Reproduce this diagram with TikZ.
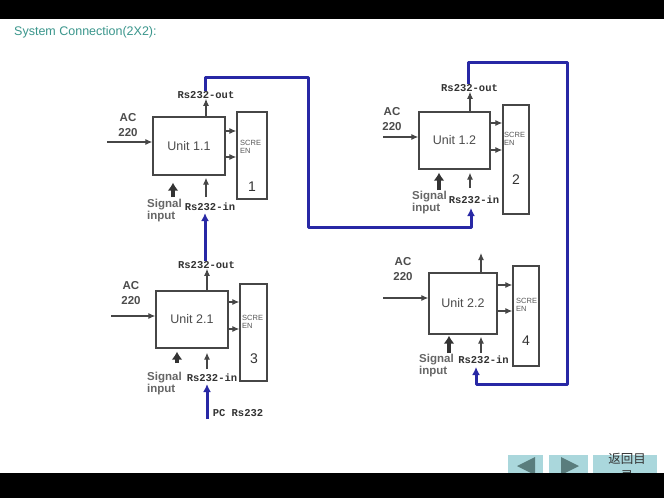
\documentclass[tikz,border=0pt]{standalone}
\usepackage{fontspec}
\setmainfont{Liberation Sans}
\setmonofont{Liberation Mono}
\newfontfamily\cjk{Noto Sans CJK SC}
\usetikzlibrary{arrows.meta,positioning,calc}
\definecolor{titlecol}{RGB}{58,150,140}
\definecolor{linkblue}{RGB}{40,40,165}
\definecolor{linegray}{RGB}{70,70,70}
\definecolor{btnfill}{RGB}{170,215,220}
\definecolor{btntri}{RGB}{90,125,125}

\tikzset{
  unit/.style={draw=linegray, line width=1.4pt, inner sep=0pt, font=\fontsize{12.5}{14}\selectfont, text=black!70},
  screen/.style={draw=linegray, line width=1.4pt, inner sep=0pt},
  feed/.style={draw=linegray, line width=1.1pt, -{Latex[length=7pt,width=6pt]}},
  sigfeed/.style={draw=black!80, line width=4pt, -{Latex[length=8pt,width=11pt]}},
  bus/.style={draw=linkblue, line width=3pt, line join=round},
  busin/.style={bus, -{Latex[length=8pt,width=8pt]}},
  port/.style={font=\ttfamily\bfseries\fontsize{10.5}{12}\selectfont, text=black!80, inner sep=0pt},
  acl/.style={font=\bfseries\fontsize{11.5}{15}\selectfont, text=black!70, align=center, inner sep=0pt},
  sigl/.style={font=\bfseries\fontsize{11.5}{12}\selectfont, text=black!60, align=left, inner sep=0pt, anchor=north west},
  scrl/.style={font=\fontsize{7.5}{8.5}\selectfont, text=black!65, align=left, inner sep=0pt, anchor=north west},
  numl/.style={font=\fontsize{14}{16}\selectfont, text=black!80},
  navbtn/.style={fill=btnfill, draw=none},
}

\begin{document}
\begin{tikzpicture}[x=1pt, y=-1pt]
    \useasboundingbox (0,0) rectangle (664,498);
    \fill[white] (0,0) rectangle (664,498);
    \node[anchor=west, text=titlecol, font=\fontsize{12.5}{14}\selectfont, inner sep=0pt] (title) at (14,32) {System Connection(2X2):};

    % Unit 1.1
    \node[unit, minimum width=72pt, minimum height=58pt] (u11) at (189,146) {Unit 1.1};
    \node[screen, minimum width=30pt, minimum height=87pt] (s1) at (252,155.5) {};
    \node[scrl] (t1) at (240,140) {SCRE\\EN};
    \node[numl] (n1) at (252,187) {1};
    \node[acl] (ac11) at (128,125.5) {AC\\220};
    \node[port] (o11) at (206,95) {Rs232-out};
    \node[sigl] (sg11) at (147,199) {Signal\\input};
    \node[port] (i11) at (210,207) {Rs232-in};
    \coordinate (acs11) at (107,142);
    \coordinate (sgs11) at (173,197);
    \coordinate (ins11) at (206,197);
    \draw[feed] (acs11) -- (acs11 -| u11.west);
    \draw[feed] (u11.east |- 0,131) -- (s1.west |- 0,131);
    \draw[feed] (u11.east |- 0,157) -- (s1.west |- 0,157);
    \draw[feed] (u11.north -| 206,0) -- (o11.south -| 206,0);
    \draw[sigfeed, shorten >=7pt] (sgs11) -- (sgs11 |- u11.south);
    \draw[feed, shorten >=2pt] (ins11) -- (ins11 |- u11.south);

    % Unit 1.2
    \node[unit, minimum width=71pt, minimum height=57pt] (u12) at (454.5,140.5) {Unit 1.2};
    \node[screen, minimum width=26pt, minimum height=109pt] (s2) at (516,159.5) {};
    \node[scrl] (t2) at (504,132) {SCRE\\EN};
    \node[numl] (n2) at (516,180) {2};
    \node[acl] (ac12) at (392,119) {AC\\220};
    \node[port] (o12) at (469.5,88) {Rs232-out};
    \node[sigl] (sg12) at (412,191) {Signal\\input};
    \node[port] (i12) at (474,200) {Rs232-in};
    \coordinate (acs12) at (383,137);
    \coordinate (sgs12) at (439,190);
    \coordinate (ins12) at (470,188);
    \draw[feed] (acs12) -- (acs12 -| u12.west);
    \draw[feed] (u12.east |- 0,123) -- (s2.west |- 0,123);
    \draw[feed] (u12.east |- 0,150) -- (s2.west |- 0,150);
    \draw[feed] (u12.north -| 470,0) -- (o12.south -| 470,0);
    \draw[sigfeed, shorten >=3pt] (sgs12) -- (sgs12 |- u12.south);
    \draw[feed, shorten >=3pt] (ins12) -- (ins12 |- u12.south);

    % Unit 2.1
    \node[unit, minimum width=72pt, minimum height=57pt] (u21) at (192,319.5) {Unit 2.1};
    \node[screen, minimum width=27pt, minimum height=97pt] (s3) at (253.5,332.5) {};
    \node[scrl] (t3) at (242,315) {SCRE\\EN};
    \node[numl] (n3) at (254,359) {3};
    \node[acl] (ac21) at (131,293) {AC\\220};
    \node[port] (o21) at (206.5,265) {Rs232-out};
    \node[sigl] (sg21) at (147,372) {Signal\\input};
    \node[port] (i21) at (212,378) {Rs232-in};
    \node[port] (pc) at (238,413) {PC Rs232};
    \coordinate (acs21) at (111,316);
    \coordinate (sgs21) at (177,363);
    \coordinate (ins21) at (207,369);
    \coordinate (pcs) at (207,419);
    \draw[feed] (acs21) -- (acs21 -| u21.west);
    \draw[feed] (u21.east |- 0,302) -- (s3.west |- 0,302);
    \draw[feed] (u21.east |- 0,329) -- (s3.west |- 0,329);
    \draw[feed] (u21.north -| 207,0) -- (o21.south -| 207,0);
    \draw[sigfeed, shorten >=3pt] (sgs21) -- (sgs21 |- u21.south);
    \draw[feed, shorten >=4pt] (ins21) -- (ins21 |- u21.south);

    % Unit 2.2
    \node[unit, minimum width=68pt, minimum height=61pt] (u22) at (463,303.5) {Unit 2.2};
    \node[screen, minimum width=26pt, minimum height=100pt] (s4) at (526,316) {};
    \node[scrl] (t4) at (516,298) {SCRE\\EN};
    \node[numl] (n4) at (526,341) {4};
    \node[acl] (ac22) at (403,269.5) {AC\\220};
    \node[sigl] (sg22) at (419,354) {Signal\\input};
    \node[port] (i22) at (483.5,360) {Rs232-in};
    \coordinate (acs22) at (383,298);
    \coordinate (sgs22) at (449,353);
    \coordinate (ins22) at (481,353);
    \coordinate (os22) at (481,253);
    \draw[feed] (acs22) -- (acs22 -| u22.west);
    \draw[feed] (u22.east |- 0,285) -- (s4.west |- 0,285);
    \draw[feed] (u22.east |- 0,311) -- (s4.west |- 0,311);
    \draw[feed] (u22.north -| os22) -- (os22);
    \draw[sigfeed, shorten >=1pt] (sgs22) -- (sgs22 |- u22.south);
    \draw[feed, shorten >=2pt] (ins22) -- (ins22 |- u22.south);

    % RS232 chain
    \coordinate (b1a) at (308,77);
    \coordinate (b1b) at (308,227);
    \coordinate (r12) at (471,208);
    \coordinate (b2a) at (567,62);
    \coordinate (b2b) at (567,384);
    \coordinate (r22) at (476,367);
    \draw[busin] (o21.north -| 205,0) -- ([yshift=-2pt]i11.south -| 205,0);
    \draw[busin] (o11.north -| 205,0) |- (b1a) -- (b1b) -| (r12);
    \draw[busin] (o12.north -| 468,0) |- (b2a) -- (b2b) -| (r22);
    \draw[busin] (pcs) -- ([yshift=-2pt]i21.south -| pcs);

    % nav buttons
    \fill[navbtn] (508,455) rectangle (543,478);
    \fill[navbtn] (549,455) rectangle (588,478);
    \fill[navbtn] (593,455) rectangle (657,478);
    \fill[btntri] (517,466) -- (535,457) -- (535,475) -- cycle;
    \fill[btntri] (561,457) -- (561,475) -- (579,466) -- cycle;
    \node[font=\cjk\fontsize{12.5}{17}\selectfont, text=black!80, align=center] (back) at (627,467) {返回目\\录};

    % black bars
    \fill[black] (0,0) rectangle (664,19);
    \fill[black] (0,473) rectangle (664,498);
\end{tikzpicture}
\end{document}
